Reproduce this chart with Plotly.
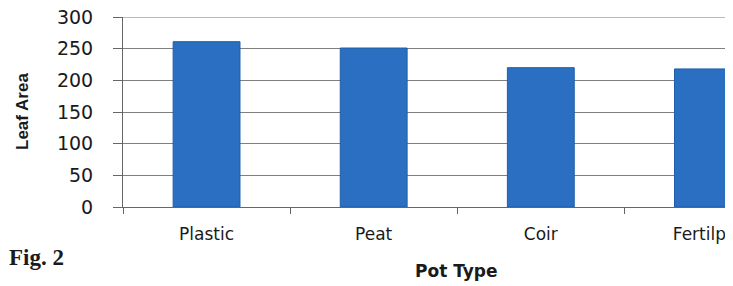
import plotly.graph_objects as go

categories = ["Plastic", "Peat", "Coir", "Fertilpot"]
leaf_area = [261, 251, 220, 218]
y_ticks = [0, 50, 100, 150, 200, 250, 300]

# page body has an 8px margin; figure coords = reference pixels - 8
OFF = 8
L, T, PW, PH = 123 - OFF, 17 - OFF, 610, 190
W, H = 733 - OFF, 286 - OFF


def px(x):
    return (x - OFF - L) / PW


def py(y):
    return 1 - (y - OFF - T) / PH


fig = go.Figure()
fig.add_trace(go.Bar(
    x=categories, y=leaf_area, width=0.4,
    marker=dict(color="#2a6fc2", line=dict(color="#1f5ea8", width=1)),
))

fig.update_layout(
    width=W, height=H,
    margin=dict(l=L, r=W - L - PW, t=T, b=H - T - PH, autoexpand=False),
    paper_bgcolor="white", plot_bgcolor="white",
    showlegend=False,
    font=dict(family="DejaVu Sans", color="#1a1a1a"),
    xaxis=dict(
        range=[-0.5, 3.15], type="category",
        showline=True, linecolor="#666666", linewidth=1,
        ticks="outside", tickson="boundaries", ticklen=6, tickcolor="#666666",
        tickfont=dict(size=17, color="#1a1a1a"), ticklabelstandoff=12,
        ticklabeloverflow="allow",
        showgrid=False,
    ),
    yaxis=dict(
        range=[0, 300], tickvals=y_ticks,
        showline=True, linecolor="#666666", linewidth=1,
        ticks="outside", ticklen=9, tickcolor="#666666",
        tickfont=dict(size=19, color="#1a1a1a"), ticklabelstandoff=16,
        ticklabeloverflow="allow",
        showgrid=True, gridcolor="#7f7f7f", gridwidth=1,
        zeroline=False,
    ),
    shapes=[dict(type="line", xref="paper", yref="y", x0=0, x1=1, y0=300, y1=300,
                 line=dict(color="#777777", width=1))],
)

fig.add_annotation(text="<b>Leaf Area</b>", xref="paper", yref="paper",
                   x=px(22), y=py(112), textangle=-90, showarrow=False,
                   xanchor="center", yanchor="middle",
                   font=dict(family="Liberation Sans Narrow, Liberation Sans", size=17, color="#1a1a1a"))
fig.add_annotation(text="<b>Pot Type</b>", xref="paper", yref="paper",
                   x=px(456), y=py(271), showarrow=False, xanchor="center", yanchor="middle",
                   font=dict(family="DejaVu Sans", size=17, color="#1a1a1a"))
fig.add_annotation(text="<b>Fig. 2</b>", xref="paper", yref="paper",
                   x=px(7), xanchor="left", y=py(257), yanchor="middle", showarrow=False,
                   font=dict(family="Liberation Serif", size=23, color="#1a1a1a"))

fig.write_html("out.html")
